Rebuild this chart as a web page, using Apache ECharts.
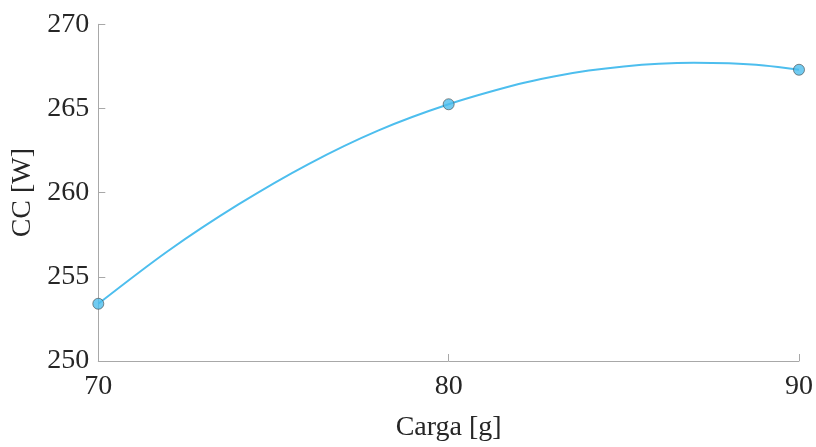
<!DOCTYPE html>
<html>
<head>
<meta charset="utf-8">
<script src="https://cdn.jsdelivr.net/npm/echarts@6/dist/echarts.min.js"></script>
<style>
  html, body { margin: 0; padding: 0; background: #ffffff; }
  #chart { width: 816px; height: 447px; }
</style>
</head>
<body>
<div id="chart"></div>
<script>
// Measured points: load (g) vs. CC (W)
const cargaPoints = [70, 80, 90];
const ccPoints = [253.4, 265.25, 267.3];

// Fitted trend curve, sampled along the load range
const cargaCurve = [70, 72, 74, 76, 78, 80, 82, 83, 84, 85, 86, 87, 88, 89, 90];
const ccCurve = [253.4, 256.55, 259.3, 261.7, 263.7, 265.25, 266.45, 266.9, 267.25, 267.5, 267.66, 267.72, 267.68, 267.55, 267.3];

// Axis ticks
const xTicks = [70, 80, 90];
const yTicks = [250, 255, 260, 265, 270];

const lineColor = '#4DBEEE';
const axisGray = '#a8a8a8';
const textColor = '#262626';
const fontFamily = '"Liberation Serif", "DejaVu Serif", serif';

const chart = echarts.init(document.getElementById('chart'), null, { renderer: 'canvas' });

chart.setOption({
  animation: false,
  backgroundColor: '#ffffff',
  grid: { left: 98.3, right: 14.7, top: 24.3, bottom: 75.3, containLabel: false },
  xAxis: {
    type: 'value',
    min: xTicks[0],
    max: xTicks[xTicks.length - 1],
    interval: xTicks[1] - xTicks[0],
    name: 'Carga [g]',
    nameLocation: 'middle',
    nameGap: 53,
    nameTextStyle: { fontFamily, fontSize: 28, color: textColor },
    axisLine: { show: true, lineStyle: { color: axisGray, width: 1 } },
    axisTick: { show: true, inside: true, length: 7, lineStyle: { color: axisGray, width: 1 } },
    axisLabel: { fontFamily, fontSize: 28, color: textColor, margin: 12 },
    splitLine: { show: false }
  },
  yAxis: {
    type: 'value',
    min: yTicks[0],
    max: yTicks[yTicks.length - 1],
    interval: yTicks[1] - yTicks[0],
    name: 'CC [W]',
    nameLocation: 'middle',
    nameGap: 62,
    nameTextStyle: { fontFamily, fontSize: 28, color: textColor },
    axisLine: { show: true, lineStyle: { color: axisGray, width: 1 } },
    axisTick: { show: true, inside: true, length: 7, lineStyle: { color: axisGray, width: 1 } },
    axisLabel: { fontFamily, fontSize: 28, color: textColor, margin: 9 },
    splitLine: { show: false }
  },
  series: [
    {
      type: 'line',
      data: cargaCurve.map((x, i) => [x, ccCurve[i]]),
      smooth: 0.3,
      showSymbol: false,
      lineStyle: { color: lineColor, width: 2 },
      z: 2
    },
    {
      type: 'scatter',
      data: cargaPoints.map((x, i) => [x, ccPoints[i]]),
      symbol: 'circle',
      symbolSize: 11,
      itemStyle: { color: lineColor, borderColor: '#4a4a4a', borderWidth: 0.8 },
      z: 3
    }
  ]
});
</script>
</body>
</html>
